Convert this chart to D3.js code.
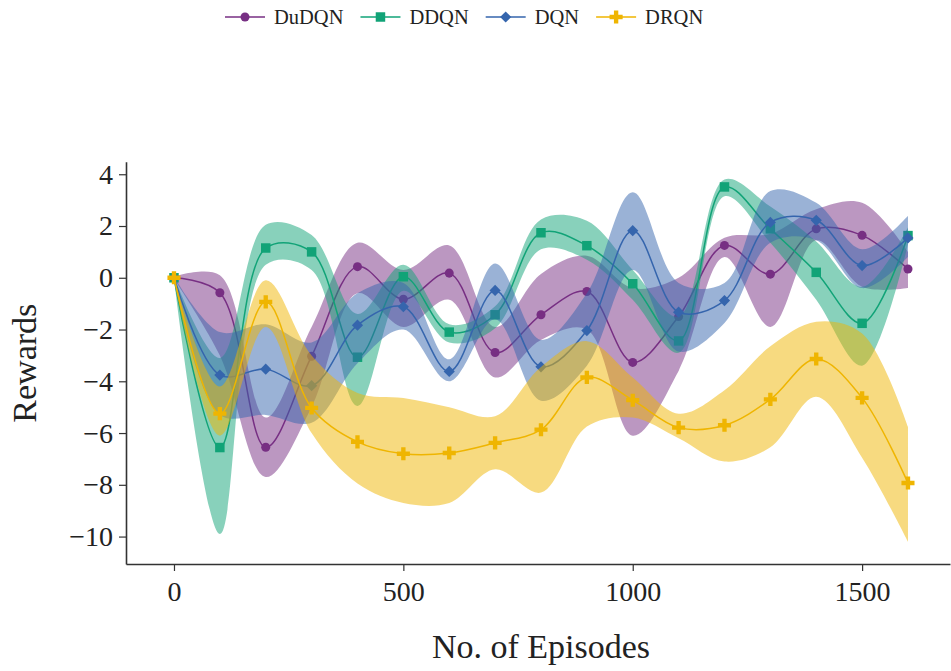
<!DOCTYPE html>
<html>
<head>
<meta charset="utf-8">
<script src="https://cdn.jsdelivr.net/npm/d3@7"></script>
<style>
  body { margin: 0; background: #fff; }
  svg text { font-family: "Liberation Serif", "Times New Roman", serif; fill: #222; }
</style>
</head>
<body>
<script>
// episodes on the x axis
const episodes = [0, 100, 200, 300, 400, 500, 600, 700, 800, 900, 1000, 1100, 1200, 1300, 1400, 1500, 1600];

const dudqn      = [0, -0.58, -6.55, -3.03, 0.43, -0.83, 0.18, -2.89, -1.43, -0.53, -3.27, -1.5, 1.25, 0.14, 1.89, 1.64, 0.34];
const dudqnUpper = [0.05, 0.1, -5.4, -1.9, 1.35, 0.3, 1.25, -1.9, 0.15, 0.85, -0.4, 0.0, 1.55, 1.7, 2.65, 2.9, 1.0];
const dudqnLower = [-0.05, -3.0, -7.7, -5.0, -0.6, -1.9, -0.85, -3.85, -2.4, -2.0, -6.1, -3.6, 0.8, -1.9, 1.45, -0.35, -0.4];

const ddqn      = [0, -6.56, 1.15, 1.0, -3.07, 0.04, -2.1, -1.43, 1.74, 1.24, -0.23, -2.44, 3.51, 1.89, 0.21, -1.76, 1.63];
const ddqnUpper = [0.05, -3.1, 2.05, 1.65, -1.4, 0.5, -1.8, -1.1, 2.25, 2.2, 0.3, -1.5, 3.8, 2.75, 1.4, -0.35, 1.95];
const ddqnLower = [-0.05, -9.9, 0.5, 0.3, -4.95, -0.5, -2.5, -1.95, 1.1, 0.7, -0.85, -2.9, 3.15, 1.35, -0.85, -3.4, 1.3];

const dqn      = [0, -3.76, -3.53, -4.17, -1.83, -1.12, -3.62, -0.49, -3.44, -2.04, 1.82, -1.33, -0.88, 2.14, 2.22, 0.47, 1.54];
const dqnUpper = [0.05, -2.1, -1.8, -2.5, -0.6, -0.2, -3.15, 0.55, -2.4, -0.6, 3.3, -0.2, -0.2, 3.35, 2.9, 1.1, 2.4];
const dqnLower = [-0.05, -5.3, -5.3, -5.6, -3.3, -2.0, -4.0, -1.6, -4.75, -3.4, 0.3, -2.85, -1.75, 1.35, 1.45, -0.4, 0.8];

const drqn      = [0, -5.25, -0.93, -5.03, -6.34, -6.8, -6.77, -6.38, -5.87, -3.85, -4.73, -5.79, -5.7, -4.7, -3.14, -4.64, -7.93];
const drqnUpper = [0.05, -4.2, -0.1, -3.0, -4.45, -4.65, -5.0, -5.35, -3.45, -2.45, -3.85, -5.25, -4.35, -2.65, -1.7, -2.15, -5.75];
const drqnLower = [-0.05, -6.1, -1.9, -6.0, -7.95, -8.7, -8.7, -7.4, -8.3, -5.75, -5.4, -6.2, -7.1, -6.55, -4.6, -6.95, -10.2];

const xTicks = [0, 500, 1000, 1500];
const yTicks = [-10, -8, -6, -4, -2, 0, 2, 4];

const series = [
    { name: 'DuDQN', mean: dudqn, upper: dudqnUpper, lower: dudqnLower, color: '#772f83', symbol: d3.symbolCircle, size: 64 },
    { name: 'DDQN',  mean: ddqn,  upper: ddqnUpper,  lower: ddqnLower,  color: '#11a377', symbol: d3.symbolSquare, size: 90 },
    { name: 'DQN',   mean: dqn,   upper: dqnUpper,   lower: dqnLower,   color: '#3565ad', symbol: d3.symbolDiamond2, size: 80 },
    { name: 'DRQN',  mean: drqn,  upper: drqnUpper,  lower: drqnLower,  color: '#efb501', symbol: d3.symbolCross, size: 95 }
];

const width = 951;
const height = 671;

const svg = d3.select('body')
    .append('svg')
    .attr('width', width)
    .attr('height', height);

const xScale = d3.scaleLinear()
    .domain([-104.6, 1691.6])
    .range([126, 950]);

const yScale = d3.scaleLinear()
    .domain([-11.06, 4.485])
    .range([564, 161.7]);

const curve = d3.curveCatmullRom.alpha(0.5);

// bands, lines and markers, one series at a time
series.forEach(s => {
    const pts = episodes.map((e, i) => ({ x: e, m: s.mean[i], lo: s.lower[i], hi: s.upper[i] }));

    const area = d3.area()
        .x(d => xScale(d.x))
        .y0(d => yScale(d.lo))
        .y1(d => yScale(d.hi))
        .curve(curve);

    const line = d3.line()
        .x(d => xScale(d.x))
        .y(d => yScale(d.m))
        .curve(curve);

    svg.append('path')
        .datum(pts)
        .attr('d', area)
        .attr('fill', s.color)
        .attr('fill-opacity', 0.5);

    svg.append('path')
        .datum(pts)
        .attr('d', line)
        .attr('fill', 'none')
        .attr('stroke', s.color)
        .attr('stroke-width', 1.5);

    svg.append('g')
        .selectAll('path')
        .data(pts)
        .enter()
        .append('path')
        .attr('d', d3.symbol().type(s.symbol).size(s.size))
        .attr('transform', d => `translate(${xScale(d.x)}, ${yScale(d.m)})`)
        .attr('fill', s.color);
});

// axes
const xAxis = d3.axisBottom(xScale)
    .tickValues(xTicks)
    .tickFormat(d3.format('d'))
    .tickSize(7)
    .tickSizeOuter(0)
    .tickPadding(10);

const yAxis = d3.axisLeft(yScale)
    .tickValues(yTicks)
    .tickSize(7)
    .tickSizeOuter(0)
    .tickPadding(6);

const gx = svg.append('g')
    .attr('transform', `translate(0, 564)`)
    .call(xAxis);

const gy = svg.append('g')
    .attr('transform', `translate(126, 0)`)
    .call(yAxis);

[gx, gy].forEach(g => {
    g.select('.domain').attr('stroke', '#333').attr('stroke-width', 1.6);
    g.selectAll('.tick line').attr('stroke', '#333').attr('stroke-width', 1.2);
    g.selectAll('.tick text')
        .attr('font-family', '"Liberation Serif", serif')
        .attr('font-size', 28)
        .attr('fill', '#222');
});

svg.append('text')
    .attr('x', xScale(800))
    .attr('y', 658)
    .attr('text-anchor', 'middle')
    .attr('font-size', 34)
    .text('No. of Episodes');

svg.append('text')
    .attr('transform', `translate(36, ${yScale(-3.3)}) rotate(-90)`)
    .attr('text-anchor', 'middle')
    .attr('font-size', 34)
    .text('Rewards');

// legend across the top
const legend = svg.append('g').attr('transform', 'translate(225, 17)');
let lx = 0;
series.forEach(s => {
    const item = legend.append('g').attr('transform', `translate(${lx}, 0)`);
    item.append('line')
        .attr('x1', 0).attr('x2', 40)
        .attr('stroke', s.color)
        .attr('stroke-width', 1.5);
    item.append('path')
        .attr('d', d3.symbol().type(s.symbol).size(s.size))
        .attr('transform', 'translate(20, 0)')
        .attr('fill', s.color);
    const t = item.append('text')
        .attr('x', 49)
        .attr('dy', '0.35em')
        .attr('font-size', 20.5)
        .text(s.name);
    lx += 49 + t.node().getComputedTextLength() + 17;
});
</script>
</body>
</html>
